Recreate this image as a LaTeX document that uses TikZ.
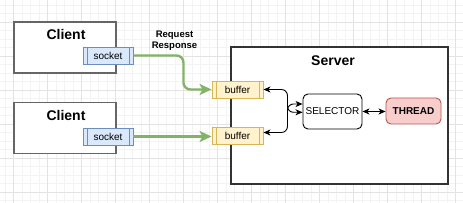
\documentclass[tikz,border=0pt]{standalone}
\usepackage{fontspec}
\setmainfont{Liberation Sans}
\usetikzlibrary{arrows.meta}
\definecolor{gridminor}{HTML}{F3F3F3}
\definecolor{gridmajor}{HTML}{E3E3E3}
\definecolor{sockfill}{HTML}{DAE8FC}
\definecolor{sockdraw}{HTML}{6C8EBF}
\definecolor{buffill}{HTML}{FFF2CC}
\definecolor{bufdraw}{HTML}{D6B656}
\definecolor{thrfill}{HTML}{F8CECC}
\definecolor{thrdraw}{HTML}{B85450}
\definecolor{greenline}{HTML}{82B366}
\definecolor{clientdraw}{HTML}{666666}
\definecolor{serverdraw}{HTML}{333333}
\tikzset{
  clientbox/.style={draw=clientdraw, line width=1.5pt, fill=white, minimum width=102pt, minimum height=51pt, inner sep=0pt},
  serverbox/.style={draw=serverdraw, line width=1.3pt, fill=white, minimum width=217pt, minimum height=137pt, inner sep=0pt},
  titletext/.style={font=\fontsize{14}{16}\selectfont\bfseries, inner sep=0pt},
  procbox/.style={line width=0.9pt, minimum width=#1, minimum height=17pt, inner sep=0pt,
    font=\fontsize{10}{12}\selectfont,
    path picture={\draw[line width=0.9pt]
      ([xshift=4pt]path picture bounding box.north west) -- ([xshift=4pt]path picture bounding box.south west)
      ([xshift=-4pt]path picture bounding box.north east) -- ([xshift=-4pt]path picture bounding box.south east);}},
  sockbox/.style={procbox=50pt, draw=sockdraw, fill=sockfill},
  bufbox/.style={procbox=51pt, draw=bufdraw, fill=buffill},
  selbox/.style={draw=black, line width=0.9pt, rounded corners=5pt, fill=white, minimum width=59pt, minimum height=35pt, inner sep=0pt, font=\fontsize{10}{12}\selectfont},
  thrbox/.style={draw=thrdraw, line width=0.9pt, rounded corners=5pt, fill=thrfill, minimum width=55pt, minimum height=26pt, inner sep=0pt, font=\fontsize{10}{12}\selectfont\bfseries},
  greenarrow/.style={draw=greenline, line width=2.4pt, rounded corners=7pt, -{Stealth[length=12pt,width=11pt,inset=3pt]}},
  dblarrow/.style={draw=black, line width=0.9pt, rounded corners=6pt, {Stealth[length=7pt,width=6pt,inset=2pt]}-{Stealth[length=7pt,width=6pt,inset=2pt]}},
  labeltext/.style={font=\fontsize{9.5}{11}\selectfont\bfseries, align=center, inner sep=0pt}
}
\begin{document}
\begin{tikzpicture}[x=1pt,y=-1pt]
\useasboundingbox (0,0) rectangle (463,203);
\fill[white] (0,0) rectangle (463,203);
% grid
\begin{scope}
\clip (0,0) rectangle (463,203);
\foreach \i in {-2,...,54} {
  \draw[gridminor, line width=0.8pt] ({13.5+8.5*\i},0) -- ({13.5+8.5*\i},203);
}
\foreach \i in {-3,...,22} {
  \draw[gridminor, line width=0.8pt] (0,{22+8.5*\i}) -- (463,{22+8.5*\i});
}
\foreach \i in {-1,...,14} {
  \draw[gridmajor, line width=0.8pt] ({13.5+34*\i},0) -- ({13.5+34*\i},203);
}
\foreach \i in {-1,...,6} {
  \draw[gridmajor, line width=0.8pt] (0,{22+34*\i}) -- (463,{22+34*\i});
}
\end{scope}

% clients
\node[clientbox] (c1) at (65,47.5) {};
\node[titletext] (c1t) at (66,34) {Client};
\node[clientbox] (c2) at (65,128) {};
\node[titletext] (c2t) at (66,115) {Client};

% server
\node[serverbox] (srv) at (339.5,115.5) {};
\node[titletext] (srvt) at (333,61) {Server};

% sockets and buffers
\node[sockbox] (s1) at (108,55.5) {socket};
\node[sockbox] (s2) at (108,136.5) {socket};
\node[bufbox] (b1) at (237.5,89.5) {buffer};
\node[bufbox] (b2) at (237.5,136) {buffer};

% selector and thread
\node[selbox] (sel) at (332.5,111.5) {SELECTOR};
\node[thrbox] (thr) at (413.5,111) {THREAD};

% label
\node[labeltext] (rr) at (174.5,40.5) {Request\\Response};

% connectors
\draw[greenarrow] (s1.east) -- ++(50,0) |- (b1.west);
\draw[greenarrow] (s2.east) -- (s2.east -| b2.west);
\draw[dblarrow] (b1.east) -- ++(24,0) |- ([yshift=-0.8pt]sel.west);
\draw[dblarrow] ([yshift=3.5pt]b2.east) -- ++(24,0) |- ([yshift=7.5pt]sel.west);
\draw[dblarrow] (sel.east) -- (sel.east -| thr.west);
\end{tikzpicture}
\end{document}
